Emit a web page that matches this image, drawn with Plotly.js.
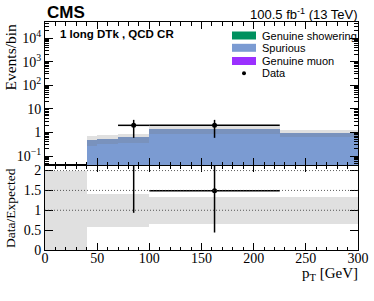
<!DOCTYPE html>
<html>
<head>
<meta charset="utf-8">
<script src="https://cdn.plot.ly/plotly-3.0.1.min.js"></script>
<style>html,body{margin:0;padding:0;background:#fff;}#chart{width:374px;height:301px;}</style>
</head>
<body>
<div id="chart"></div>
<script>
// ---- data ----
const binEdges = [0, 40, 50, 70, 100, 225, 300];
const spurious = [0.015, 0.48, 0.55, 0.63, 1.34, 0.97];
const genuineShowering = [0, 0, 0, 0, 0, 0];
const genuineMuon = [0, 0, 0, 0, 0, 0];
const relUnc = [1.0, 0.42, 0.42, 0.42, 0.34, 0.34];
const dataX = [85, 162.5];
const dataXerr = [15, 62.5];
const dataY = [2, 2];
const dataYerr = [1.41, 1.41];
const ratioRefLines = [1, 1.5, 2];
const yTickVals = [0.1, 1, 10, 100, 1000, 10000];
const yTickText = ['10<sup>\u22121</sup>', '1', '10', '10<sup>2</sup>', '10<sup>3</sup>', '10<sup>4</sup>'];
const xTickVals = [0, 50, 100, 150, 200, 250, 300];
const rTickVals = [0, 0.5, 1, 1.5, 2];
const rTickText = ['0', '0.5', '1', '1.5', '2'];
const legendLabels = ['Genuine showering', 'Spurious', 'Genuine muon', 'Data'];

// ---- derived ----
const centers = [], widths = [], total = [];
for (let i = 0; i < binEdges.length - 1; i++) {
  centers.push((binEdges[i] + binEdges[i + 1]) / 2);
  widths.push(binEdges[i + 1] - binEdges[i]);
  total.push(spurious[i] + genuineShowering[i] + genuineMuon[i]);
}
function binOf(x) { for (let i = 0; i < binEdges.length - 1; i++) if (x >= binEdges[i] && x < binEdges[i + 1]) return i; return -1; }
const ratioY = dataX.map((x, k) => dataY[k] / total[binOf(x)]);
const ratioErr = dataX.map((x, k) => dataYerr[k] / total[binOf(x)]);
const bandBaseTop = total.map((t, i) => Math.max(t * (1 - relUnc[i]), 1e-3));
const bandHTop = total.map((t, i) => t * (1 + relUnc[i]) - Math.max(t * (1 - relUnc[i]), 1e-3));
const bandBaseR = relUnc.map(u => Math.max(1 - u, 0));
const bandHR = relUnc.map(u => (1 + u) - Math.max(1 - u, 0));

const minorLog = [];
for (let n = -2; n <= 4; n++) for (let k = 2; k <= 9; k++) minorLog.push(k * Math.pow(10, n));

const blue = '#7b9bd2';
const green = '#00915f';
const purple = '#9b30ff';
const hatch = {shape: '.', fgcolor: '#6e6e6e', bgcolor: 'rgba(0,0,0,0)', size: 2, solidity: 0.5, fillmode: 'overlay'};

const traces = [
  {type: 'bar', x: centers, y: spurious, width: widths, xaxis: 'x2', yaxis: 'y2',
   marker: {color: blue, line: {width: 0}}, showlegend: false, hoverinfo: 'skip'},
  {type: 'bar', x: centers, y: bandHTop, base: bandBaseTop, width: widths, xaxis: 'x2', yaxis: 'y2',
   marker: {color: 'rgba(0,0,0,0)', line: {width: 0}, pattern: hatch}, showlegend: false, hoverinfo: 'skip'},
  {type: 'scatter', mode: 'markers', x: dataX, y: dataY, xaxis: 'x2', yaxis: 'y2',
   marker: {color: 'black', size: 5},
   error_y: {type: 'data', array: dataYerr, color: 'black', thickness: 1.5, width: 0},
   error_x: {type: 'data', array: dataXerr, color: 'black', thickness: 1.5, width: 0},
   showlegend: false},
  {type: 'bar', x: centers, y: bandHR, base: bandBaseR, width: widths, xaxis: 'x', yaxis: 'y',
   marker: {color: 'rgba(0,0,0,0)', line: {width: 0}, pattern: hatch}, showlegend: false, hoverinfo: 'skip'},
  {type: 'scatter', mode: 'markers', x: dataX, y: ratioY, xaxis: 'x', yaxis: 'y',
   marker: {color: 'black', size: 5},
   error_y: {type: 'data', array: ratioErr, color: 'black', thickness: 1.5, width: 0},
   error_x: {type: 'data', array: dataXerr, color: 'black', thickness: 1.5, width: 0},
   showlegend: false}
];

const serif = 'Liberation Serif, Times New Roman, serif';
const sans = 'Liberation Sans, Arial, sans-serif';
const H = 228, L = 45, W = 313;
const py = y => (250 - y) / H;
const px = x => (x - L) / W;
const split = py(165);

const shapes = ratioRefLines.map(v => ({type: 'line', xref: 'x', yref: 'y', x0: 0, x1: 300, y0: v, y1: v,
  line: {color: '#333', width: 0.8, dash: '1px,2px'}, layer: 'above'}));
const legColors = [green, blue, purple];
const legY = [35.5, 47.8, 61, 73.3];
legColors.forEach((c, i) => shapes.push({type: 'rect', xref: 'paper', yref: 'paper',
  x0: px(232), x1: px(256), y0: py(legY[i] + 4), y1: py(legY[i] - 4), fillcolor: c, line: {width: 0}}));
shapes.push({type: 'circle', xref: 'paper', yref: 'paper', x0: px(242), x1: px(246), y0: py(legY[3] + 2), y1: py(legY[3] - 2),
  fillcolor: 'black', line: {width: 0}});

const annotations = [
  {text: '<b>CMS</b>', xref: 'paper', yref: 'paper', x: 0, y: py(13), xanchor: 'left', yanchor: 'middle', showarrow: false,
   font: {family: sans, size: 17, color: 'black'}},
  {text: '100.5 fb<sup>-1</sup> (13 TeV)', xref: 'paper', yref: 'paper', x: 1.005, y: py(14), xanchor: 'right', yanchor: 'middle', showarrow: false,
   font: {family: sans, size: 13, color: 'black'}},
  {text: '<b>1 long DTk , QCD CR</b>', xref: 'paper', yref: 'paper', x: px(58), y: py(34), xanchor: 'left', yanchor: 'middle', showarrow: false,
   font: {family: sans, size: 11.5, color: 'black'}},
  {text: 'Events/bin', xref: 'paper', yref: 'paper', x: px(10), y: 1, xanchor: 'center', yanchor: 'top', textangle: -90, showarrow: false,
   font: {family: serif, size: 15.5, color: 'black'}},
  {text: 'Data/Expected', xref: 'paper', yref: 'paper', x: px(10), y: 0, xanchor: 'center', yanchor: 'bottom', textangle: -90, showarrow: false,
   font: {family: serif, size: 13.5, color: 'black'}},
  {text: 'p<sub>T</sub> [GeV]', xref: 'paper', yref: 'paper', x: 1.005, y: py(274), xanchor: 'right', yanchor: 'middle', showarrow: false,
   font: {family: serif, size: 15, color: 'black'}}
];
legendLabels.forEach((t, i) => annotations.push({text: t, xref: 'paper', yref: 'paper', x: px(260), y: py(legY[i]),
  xanchor: 'left', yanchor: 'middle', showarrow: false, font: {family: sans, size: 11, color: 'black'}}));

const axCommon = {showline: true, linecolor: 'black', linewidth: 1, mirror: 'ticks', ticks: 'inside', tickcolor: 'black',
  zeroline: false, showgrid: false, tickfont: {family: serif, size: 14, color: 'black'}};

const layout = {
  width: 374, height: 301,
  margin: {l: 45, r: 16, t: 22, b: 51},
  paper_bgcolor: 'white', plot_bgcolor: 'white',
  barmode: 'overlay', bargap: 0,
  showlegend: false,
  xaxis: Object.assign({}, axCommon, {anchor: 'y', domain: [0, 1], range: [0, 300], tickvals: xTickVals, ticklen: 7,
    ticklabelstandoff: -5,
    minor: {dtick: 10, tick0: 0, ticklen: 3.5, ticks: 'inside', tickcolor: 'black'}}),
  yaxis: Object.assign({}, axCommon, {anchor: 'x', domain: [0, split], range: [0, 2.14], tickvals: rTickVals, ticktext: rTickText, ticklen: 8}),
  xaxis2: Object.assign({}, axCommon, {anchor: 'y2', domain: [0, 1], range: [0, 300], tickvals: xTickVals, ticklen: 7, showticklabels: false,
    minor: {dtick: 10, tick0: 0, ticklen: 3.5, ticks: 'inside', tickcolor: 'black'}}),
  yaxis2: Object.assign({}, axCommon, {anchor: 'x2', domain: [split, 1], type: 'log', range: [-1.38, 4.68],
    tickvals: yTickVals, ticktext: yTickText, ticklen: 8,
    minor: {tickmode: 'array', tickvals: minorLog, ticklen: 4, ticks: 'inside', tickcolor: 'black'}}),
  shapes: shapes,
  annotations: annotations
};

Plotly.newPlot('chart', traces, layout, {displayModeBar: false, staticPlot: true});
</script>
</body>
</html>
